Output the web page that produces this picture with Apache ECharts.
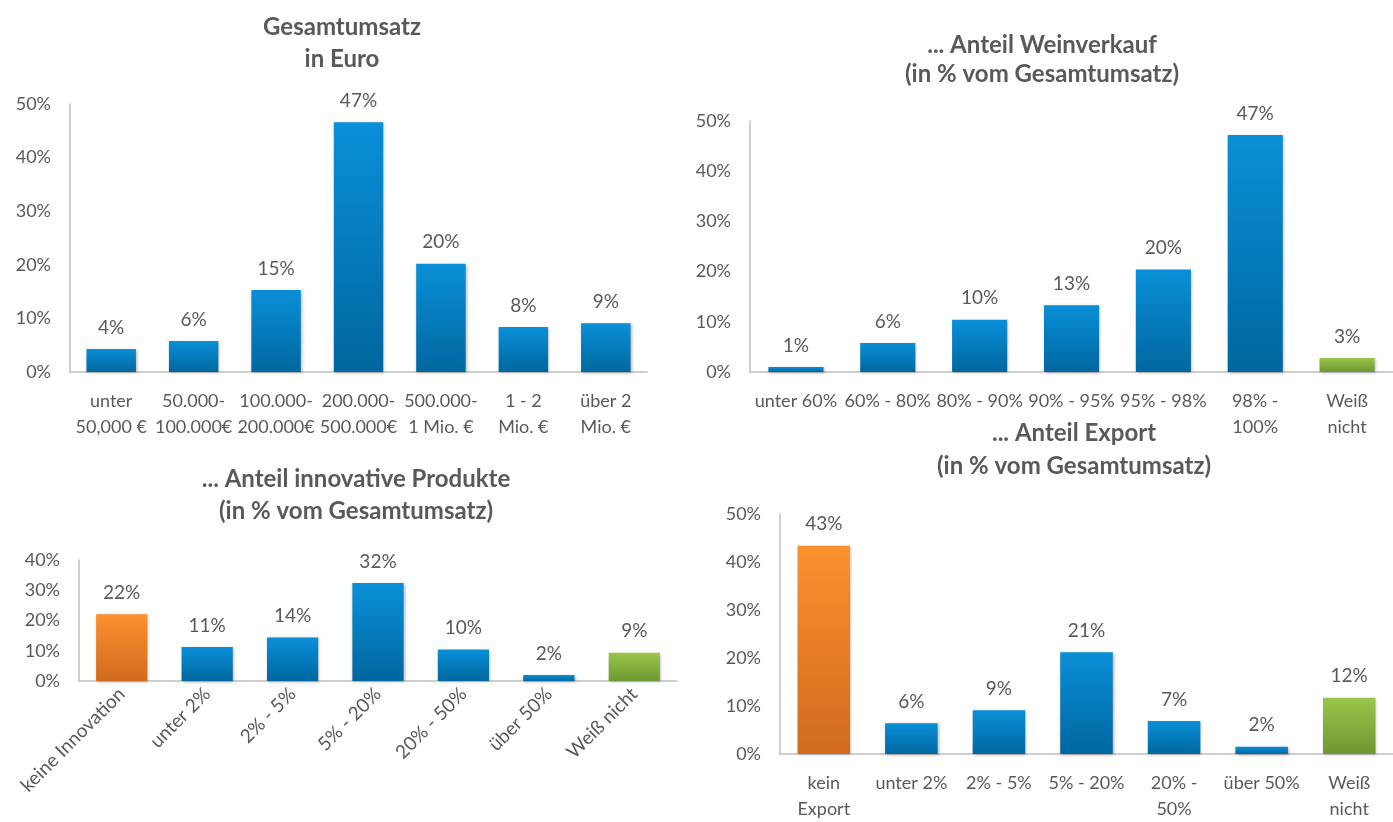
<!DOCTYPE html>
<html><head><meta charset="utf-8">
<script src="https://cdn.jsdelivr.net/npm/echarts@6/dist/echarts.min.js"></script>
<style>html,body{margin:0;padding:0;background:#fff}#c{width:1393px;height:822px}</style>
</head><body><div id="c"></div>
<script>
// Chart 1: Gesamtumsatz in Euro
const cats1 = ['unter\n50,000 €','50.000-\n100.000€','100.000-\n200.000€','200.000-\n500.000€','500.000-\n1 Mio. €','1 - 2\nMio. €','über 2\nMio. €'];
const vals1 = [4.3, 5.8, 15.3, 46.6, 20.2, 8.4, 9.1];
// Chart 2: Anteil Weinverkauf
const cats2 = ['unter 60%','60% - 80%','80% - 90%','90% - 95%','95% - 98%','98% -\n100%','Weiß\nnicht'];
const vals2 = [1.0, 5.8, 10.4, 13.3, 20.4, 47.2, 2.8];
const kinds2 = ['b','b','b','b','b','b','g'];
// Chart 3: Anteil innovative Produkte
const cats3 = ['keine Innovation','unter 2%','2% - 5%','5% - 20%','20% - 50%','über 50%','Weiß nicht'];
const vals3 = [22.1, 11.2, 14.4, 32.4, 10.4, 2.0, 9.3];
const kinds3 = ['o','b','b','b','b','b','g'];
// Chart 4: Anteil Export
const cats4 = ['kein\nExport','unter 2%','2% - 5%','5% - 20%','20% -\n50%','über 50%','Weiß\nnicht'];
const vals4 = [43.4, 6.4, 9.1, 21.2, 6.9, 1.5, 11.7];
const kinds4 = ['o','b','b','b','b','b','g'];

const titles = [
  'Gesamtumsatz\nin Euro',
  '... Anteil Weinverkauf\n(in % vom Gesamtumsatz)',
  '... Anteil innovative Produkte\n(in % vom Gesamtumsatz)',
  '... Anteil Export\n(in % vom Gesamtumsatz)'
];

const FONT = 'Lato, "Open Sans", sans-serif';
const TXT = '#595959';
const grad = (t, b) => new echarts.graphic.LinearGradient(0, 0, 0, 1, [{offset: 0, color: t}, {offset: 1, color: b}]);
const COL = {
  b: () => grad('#0a8fd8', '#00679f'),
  o: () => grad('#fc9130', '#d06b1e'),
  g: () => grad('#9bc54a', '#6d9832')
};
const mkData = (vals, kinds) => vals.map((v, i) => ({value: v, itemStyle: {color: COL[kinds ? kinds[i] : 'b']()}}));

const grids = [
  {left: 70, top: 104, width: 577, height: 268},
  {left: 750, top: 121, width: 653, height: 251},
  {left: 79, top: 560, width: 598, height: 121},
  {left: 780, top: 514, width: 621, height: 243}
];
const yMax = [50, 50, 40, 50];
const catsAll = [cats1, cats2, cats3, cats4];
const dataAll = [mkData(vals1), mkData(vals2, kinds2), mkData(vals3, kinds3), mkData(vals4, kinds4)];

const titlePos = [
  {left: 337, top: 6, lh: 32},
  {left: 1037, top: 26, lh: 29},
  {left: 351, top: 458, lh: 32},
  {left: 1069, top: 412, lh: 33}
];

const option = {
  animation: false,
  backgroundColor: '#fff',
  title: titles.map((t, i) => ({
    text: t, left: titlePos[i].left, top: titlePos[i].top, textAlign: 'center',
    textStyle: {fontFamily: FONT, fontWeight: 'bold', fontSize: 24, color: TXT, lineHeight: titlePos[i].lh}
  })),
  grid: grids.map(g => Object.assign({containLabel: false}, g)),
  xAxis: catsAll.map((c, i) => ({
    type: 'category', gridIndex: i, data: c,
    axisTick: {show: false},
    axisLine: {show: true, lineStyle: {color: '#bfbfbf', width: 1.5}},
    axisLabel: i === 2 ? {
      rotate: 45, interval: 0, fontFamily: FONT, fontSize: 19, color: TXT, margin: 10
    } : {
      interval: 0, fontFamily: FONT, fontSize: 18, color: TXT, margin: 16, lineHeight: 26
    }
  })),
  yAxis: yMax.map((m, i) => ({
    type: 'value', gridIndex: i, min: 0, max: m, interval: 10,
    splitLine: {show: false},
    axisTick: {show: false},
    axisLine: {show: true, lineStyle: {color: '#bfbfbf', width: 1.5}},
    axisLabel: {fontFamily: FONT, fontSize: 18, color: TXT, margin: 19, formatter: v => v + '%'}
  })),
  series: dataAll.map((d, i) => ({
    type: 'bar', xAxisIndex: i, yAxisIndex: i, data: d,
    barCategoryGap: '40%',
    itemStyle: {shadowBlur: 3, shadowColor: 'rgba(0,0,0,0.3)', shadowOffsetX: 1, shadowOffsetY: 1},
    label: {show: true, position: 'top', distance: 12, fontFamily: FONT, fontSize: 19, color: TXT,
      formatter: p => Math.round(p.value) + '%'}
  }))
};
const chart = echarts.init(document.getElementById('c'), null, {renderer: 'canvas'});
chart.setOption(option);
</script>
</body></html>
